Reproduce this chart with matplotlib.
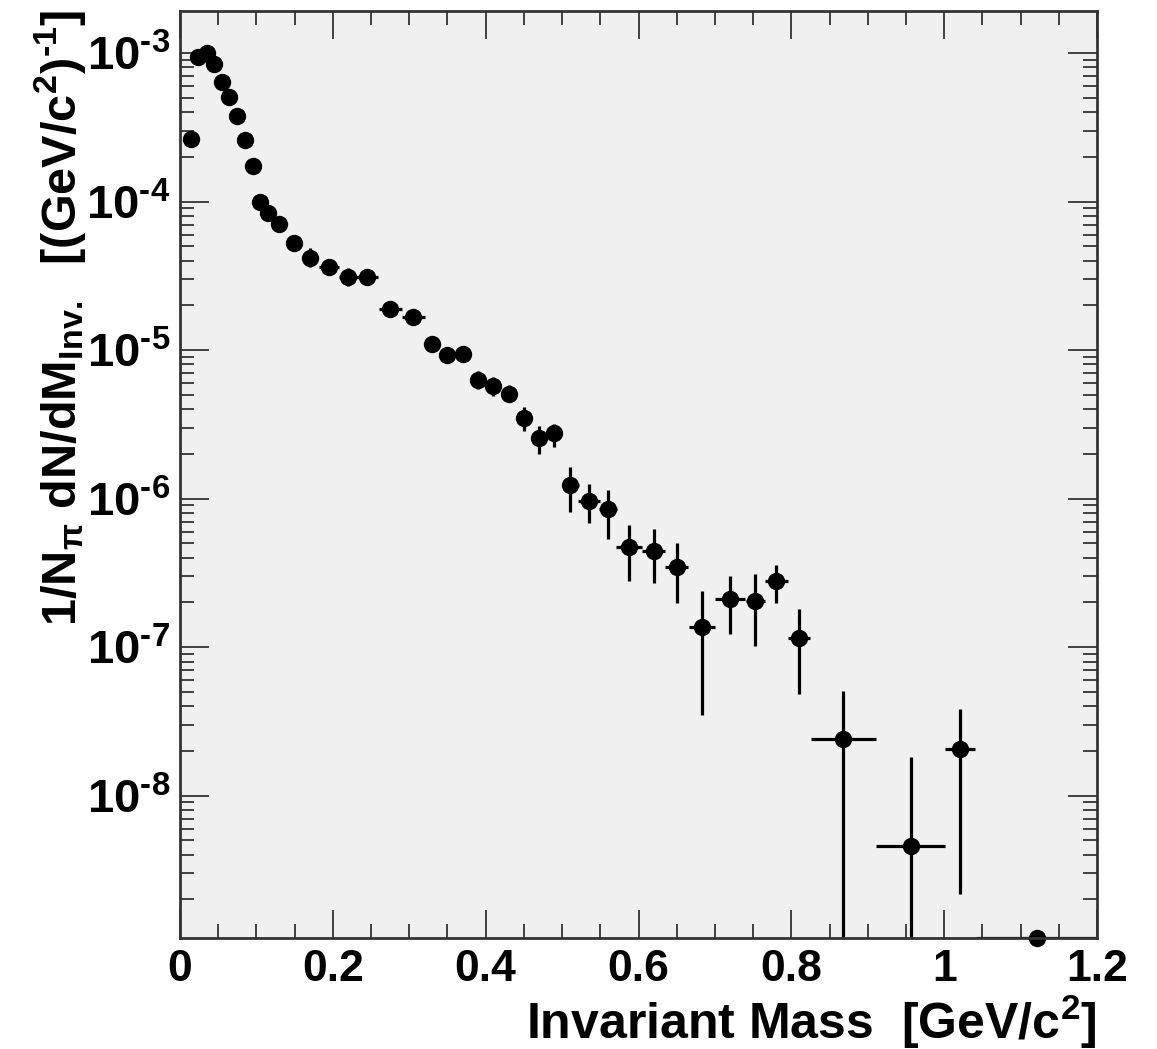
import numpy as np
import matplotlib
matplotlib.use('Agg')
import matplotlib.pyplot as plt
from matplotlib.ticker import FixedLocator, MultipleLocator, NullFormatter, FuncFormatter

# ---------------- data ----------------
mass = [0.014, 0.024, 0.035, 0.044, 0.0545, 0.064, 0.075, 0.085, 0.095, 0.105,
        0.115, 0.130, 0.149, 0.170, 0.195, 0.220, 0.245, 0.275, 0.305, 0.330,
        0.350, 0.370, 0.390, 0.410, 0.430, 0.450, 0.470, 0.490, 0.511, 0.535,
        0.560, 0.588, 0.620, 0.650, 0.683, 0.720, 0.753, 0.780, 0.810, 0.868,
        0.956, 1.021, 1.121]
mass_halfwidth = [0.005, 0.005, 0.005, 0.005, 0.005, 0.005, 0.005, 0.005, 0.005, 0.005,
                  0.005, 0.0075, 0.01, 0.01, 0.0125, 0.0125, 0.014, 0.015, 0.015, 0.01,
                  0.01, 0.01, 0.01, 0.01, 0.01, 0.01, 0.01, 0.01, 0.011, 0.0145,
                  0.0115, 0.017, 0.015, 0.015, 0.0175, 0.02, 0.012, 0.015, 0.015, 0.0423,
                  0.0448, 0.0196, 0.079]
dndm = [2.62e-4, 9.36e-4, 1.0e-3, 8.4e-4, 6.35e-4, 5.1e-4, 3.77e-4, 2.6e-4, 1.73e-4, 1.0e-4,
        8.4e-5, 7.1e-5, 5.3e-5, 4.2e-5, 3.64e-5, 3.13e-5, 3.09e-5, 1.9e-5, 1.66e-5, 1.10e-5,
        9.25e-6, 9.4e-6, 6.3e-6, 5.7e-6, 5.1e-6, 3.5e-6, 2.57e-6, 2.75e-6, 1.23e-6, 9.7e-7,
        8.5e-7, 4.73e-7, 4.45e-7, 3.48e-7, 1.36e-7, 2.1e-7, 2.05e-7, 2.78e-7, 1.16e-7, 2.41e-8,
        4.57e-9, 2.05e-8, 1.1e-9]
dndm_low = [2.54e-4, 9.1e-4, 9.7e-4, 8.15e-4, 6.15e-4, 4.95e-4, 3.65e-4, 2.52e-4, 1.68e-4, 9.7e-5,
            8.1e-5, 6.85e-5, 4.72e-5, 3.64e-5, 3.25e-5, 2.70e-5, 2.8e-5, 1.66e-5, 1.53e-5, 0.99e-5,
            8.2e-6, 8.6e-6, 5.5e-6, 4.9e-6, 4.45e-6, 2.85e-6, 1.99e-6, 2.23e-6, 8.1e-7, 6.8e-7,
            5.36e-7, 2.78e-7, 2.71e-7, 1.99e-7, 3.47e-8, 1.22e-7, 1.02e-7, 1.99e-7, 4.8e-8, 1e-14,
            1e-14, 2.19e-9, 1.1e-9]
dndm_high = [2.7e-4, 9.65e-4, 1.03e-3, 8.65e-4, 6.55e-4, 5.25e-4, 3.9e-4, 2.68e-4, 1.78e-4, 1.03e-4,
             8.65e-5, 7.35e-5, 5.95e-5, 4.84e-5, 4.04e-5, 3.58e-5, 3.4e-5, 2.11e-5, 1.8e-5, 1.22e-5,
             1.04e-5, 1.03e-5, 7.2e-6, 6.6e-6, 5.8e-6, 4.11e-6, 3.09e-6, 3.2e-6, 1.64e-6, 1.26e-6,
             1.15e-6, 6.67e-7, 6.2e-7, 4.99e-7, 2.37e-7, 3.0e-7, 3.09e-7, 3.56e-7, 1.80e-7, 5.03e-8,
             1.81e-8, 3.85e-8, 1.1e-9]
y_major_ticks = [1e-8, 1e-7, 1e-6, 1e-5, 1e-4, 1e-3]
x_major_ticks = [0, 0.2, 0.4, 0.6, 0.8, 1.0, 1.2]
x_tick_labels = ['0', '0.2', '0.4', '0.6', '0.8', '1', '1.2']

# ---------------- style ----------------
FONT = 'Liberation Sans'
plt.rcParams['font.family'] = [FONT, 'DejaVu Sans']
plt.rcParams['font.weight'] = 'bold'
plt.rcParams['mathtext.fontset'] = 'custom'
plt.rcParams['mathtext.rm'] = FONT + ':bold'
plt.rcParams['mathtext.it'] = FONT + ':bold'
plt.rcParams['mathtext.bf'] = FONT + ':bold'
plt.rcParams['mathtext.sf'] = FONT + ':bold'
plt.rcParams['axes.unicode_minus'] = False

W, H = 1157, 1049
fig = plt.figure(figsize=(W / 100, H / 100), dpi=100)
fig.patch.set_facecolor('white')
L, R, T, B = 180, 1097, 11, 938
ax = fig.add_axes([L / W, 1 - B / H, (R - L) / W, (B - T) / H])
ax.set_facecolor('#f0f0f0')

x = np.array(mass)
y = np.array(dndm)
yerr = np.vstack([y - np.array(dndm_low), np.array(dndm_high) - y])
ax.set_yscale('log')
ax.errorbar(x, y, xerr=np.array(mass_halfwidth), yerr=yerr, fmt='none',
            ecolor='black', elinewidth=2.3, capsize=0, zorder=3)
ax.plot(x, y, 'o', color='black', markersize=11.5, zorder=4, clip_on=False)

ax.set_xlim(0, 1.2)
ax.set_ylim(1.1e-9, 1.92e-3)

for s in ax.spines.values():
    s.set_linewidth(2.0)
    s.set_color('#333333')
    s.set_zorder(5)

ax.xaxis.set_major_locator(FixedLocator(x_major_ticks))
ax.set_xticklabels(x_tick_labels)
ax.xaxis.set_minor_locator(MultipleLocator(0.05))
ax.yaxis.set_major_locator(FixedLocator(y_major_ticks))
ax.yaxis.set_major_formatter(FuncFormatter(
    lambda v, p: r'$\mathbf{10^{\text{-}%d}}$' % abs(int(round(np.log10(v))))))
ax.yaxis.set_minor_locator(FixedLocator([m * 10.0 ** e for e in range(-9, -2) for m in range(2, 10)]))
ax.yaxis.set_minor_formatter(NullFormatter())

ax.tick_params(which='both', direction='in', top=True, right=True, color='#333333', width=1.3)
ax.tick_params(axis='x', which='major', length=20, pad=8, labelsize=32)
ax.tick_params(axis='x', which='minor', length=10)
ax.tick_params(axis='y', which='major', length=21, pad=7, labelsize=34)
ax.tick_params(axis='y', which='minor', length=10)

fig.text(R / W, 1 - 1022 / H, r'Invariant Mass  [GeV/c$^{\mathbf{2}}$]', ha='right', va='center',
         fontsize=36, fontweight='bold')
fig.text(60 / W, 1 - 10 / H,
         r'$\mathbf{1/N_{\pi}\ dN/dM_{Inv.}\ \ [(GeV/c^{2})^{\text{-}1}]}$',
         rotation=90, ha='center', va='top', fontsize=35)

fig.savefig('out.png', dpi=100, facecolor='white')
